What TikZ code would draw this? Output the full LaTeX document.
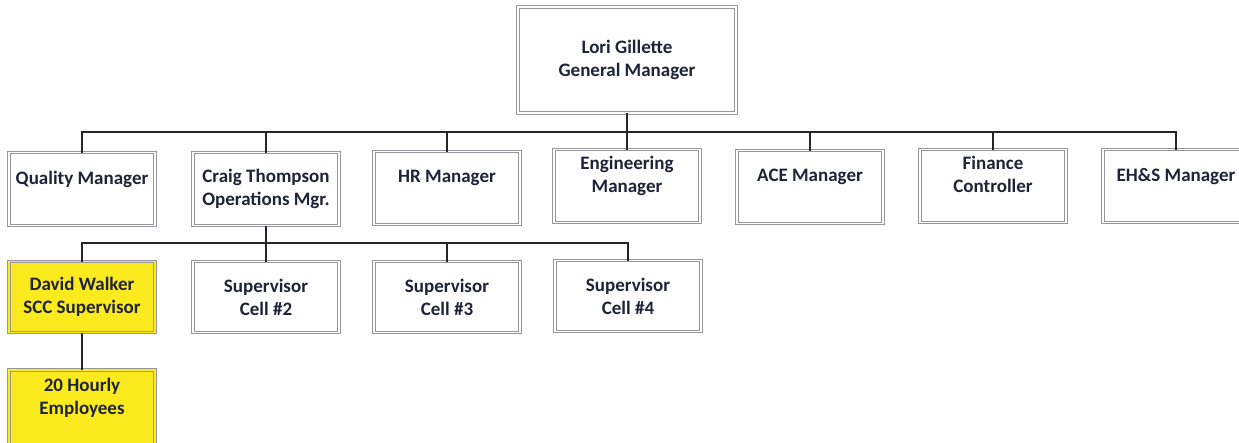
\documentclass[tikz,border=0pt]{standalone}
\usepackage{fontspec}
\setmainfont{Carlito}
\usepackage{tikz}
\usetikzlibrary{positioning}
\definecolor{boxline}{RGB}{150,150,155}
\definecolor{ink}{RGB}{30,35,55}
\definecolor{hiyellow}{RGB}{250,234,30}
\tikzset{box/.style = {draw=boxline, double=white, double distance=1.8pt,
                       line width=0.7pt, fill=white, text=ink, align=center,
                       minimum width=146pt, minimum height=73pt, outer sep=0pt,
                       font=\fontsize{19}{23}\selectfont\bfseries},
         hl/.style = {box, fill=hiyellow, double=hiyellow},
         link/.style = {line width=2.2pt, draw=black!85}}

\begin{document}
\begin{tikzpicture}[x=1pt, y=-1pt]
    \useasboundingbox (0, 0) rectangle (1239, 442);
    \clip (0, 0) rectangle (1239, 442);

    \node [box, minimum width=218pt, minimum height=106pt] (gm) at (627, 60)
      {Lori Gillette\\General Manager};

    % department heads
    \node [box] (qm)  at (82, 189)   {Quality Manager\\~};
    \node [box] (ops) at (266, 189)  {Craig Thompson\\Operations Mgr.};
    \node [box] (hr)  at (447, 188)  {HR Manager\\~};
    \node [box] (eng) at (627, 186)  {Engineering\\Manager\\~};
    \node [box] (ace) at (810, 187)  {ACE Manager\\~};
    \node [box] (fin) at (993, 186)  {Finance\\Controller\\~};
    \node [box] (ehs) at (1176, 186) {EH\&S Manager\\~};

    % cells
    \node [hl, minimum height=71pt]  (dw) at (82, 297)  {David Walker\\SCC Supervisor};
    \node [box, minimum height=71pt] (c2) at (266, 297) {Supervisor\\Cell \#2};
    \node [box, minimum height=71pt] (c3) at (447, 297) {Supervisor\\Cell \#3};
    \node [box, minimum height=71pt] (c4) at (628, 296) {Supervisor\\Cell \#4};
    \node [hl, minimum height=76pt] (hourly) at (82, 408) {20 Hourly\\Employees\\~};

    \coordinate (bus1) at (627, 132);
    \coordinate (bus2) at (266, 243);

    \draw [link] (gm.south) -- (eng.north);
    \draw [link] (qm.north) |- (bus1) -| (ehs.north);
    \foreach \n in {ops, hr, ace, fin}
      \draw [link] (\n.north) -- (\n.north |- bus1);

    \draw [link] (ops.south) -- (c2.north);
    \draw [link] (dw.north) |- (bus2) -| (c4.north);
    \draw [link] (c3.north) -- (c3.north |- bus2);
    \draw [link] (dw.south) -- (hourly.north);
  \end{tikzpicture}
\end{document}
